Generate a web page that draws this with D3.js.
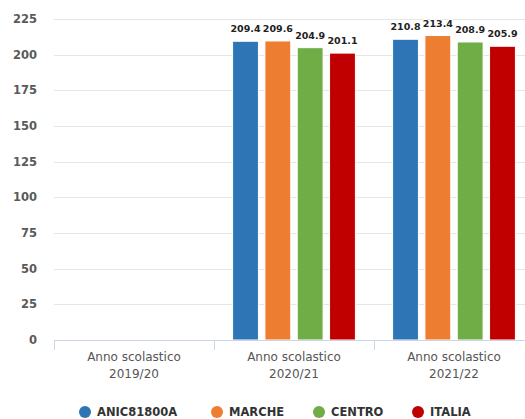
<!DOCTYPE html>
<html lang="it">
<head>
    <meta charset="UTF-8">
    <title>Anno scolastico</title>
    <script src="https://cdnjs.cloudflare.com/ajax/libs/d3/7.8.5/d3.min.js"></script>
    <style>
        body { margin: 0; background: #fff; font-family: "DejaVu Sans", Verdana, sans-serif; }
        svg { display: block; }
    </style>
</head>
<body>
    <svg id="chart" width="525" height="419"></svg>
    <script>
        // categories and series
        const years = ['Anno scolastico 2019/20', 'Anno scolastico 2020/21', 'Anno scolastico 2021/22'];
        const seriesNames = ['ANIC81800A', 'MARCHE', 'CENTRO', 'ITALIA'];
        const colors = ['#2e75b6', '#ed7d31', '#70ad47', '#c00000'];
        const anic = [null, 209.4, 210.8];
        const marche = [null, 209.6, 213.4];
        const centro = [null, 204.9, 208.9];
        const italia = [null, 201.1, 205.9];
        const yTicks = [0, 25, 50, 75, 100, 125, 150, 175, 200, 225];

        const values = [anic, marche, centro, italia];
        const svg = d3.select('#chart');

        const plotL = 54, plotR = 534, plotT = 19, plotB = 340;

        const x = d3.scaleBand().domain(years).range([plotL, plotR]);
        const xs = d3.scaleBand().domain(seriesNames)
            .range([0, x.bandwidth()])
            .paddingInner(0.2)
            .paddingOuter(0.575);
        const y = d3.scaleLinear().domain([0, 225]).range([plotB, plotT]);

        // gridlines
        svg.append('g')
            .selectAll('line')
            .data(yTicks.filter(d => d > 0))
            .enter().append('line')
            .attr('x1', plotL).attr('x2', plotR)
            .attr('y1', d => Math.round(y(d)) + 0.5)
            .attr('y2', d => Math.round(y(d)) + 0.5)
            .attr('stroke', '#e6e6e6');

        // y labels
        svg.append('g')
            .selectAll('text')
            .data(yTicks)
            .enter().append('text')
            .attr('x', 37)
            .attr('y', d => y(d) + 4)
            .attr('text-anchor', 'end')
            .attr('font-size', 11.5)
            .attr('font-weight', 'bold')
            .attr('fill', '#5a5a5a')
            .text(d => d);

        // bars
        const rows = [];
        years.forEach((yr, i) => {
            seriesNames.forEach((s, j) => {
                if (values[j][i] != null) rows.push({ yr, s, j, v: values[j][i] });
            });
        });

        svg.append('g')
            .selectAll('rect')
            .data(rows)
            .enter().append('rect')
            .attr('x', d => x(d.yr) + xs(d.s))
            .attr('y', d => y(d.v))
            .attr('width', xs.bandwidth())
            .attr('height', d => y(0) - y(d.v))
            .attr('fill', d => colors[d.j])
            .attr('stroke', '#fff')
            .attr('stroke-width', 1);

        // value labels
        svg.append('g')
            .selectAll('text')
            .data(rows)
            .enter().append('text')
            .attr('x', d => x(d.yr) + xs(d.s) + xs.bandwidth() / 2)
            .attr('y', d => y(d.v) - 9)
            .attr('text-anchor', 'middle')
            .attr('font-size', 9.5)
            .attr('font-weight', 'bold')
            .attr('fill', '#222')
            .attr('stroke', '#fff')
            .attr('stroke-width', 2)
            .attr('paint-order', 'stroke')
            .text(d => d.v.toFixed(1));

        // x axis
        const xa = svg.append('g');
        xa.append('line')
            .attr('x1', plotL).attr('x2', plotR)
            .attr('y1', plotB + 0.5).attr('y2', plotB + 0.5)
            .attr('stroke', '#ccd6eb');
        xa.selectAll('line.tick')
            .data(years.concat(['end']))
            .enter().append('line')
            .attr('class', 'tick')
            .attr('x1', d => (d === 'end' ? plotR : x(d)) + 0.5)
            .attr('x2', d => (d === 'end' ? plotR : x(d)) + 0.5)
            .attr('y1', plotB).attr('y2', plotB + 10)
            .attr('stroke', '#ccd6eb');
        const xl = xa.selectAll('text')
            .data(years)
            .enter().append('text')
            .attr('x', d => x(d) + x.bandwidth() / 2)
            .attr('text-anchor', 'middle')
            .attr('font-size', 12)
            .attr('fill', '#555');
        xl.append('tspan')
            .attr('x', d => x(d) + x.bandwidth() / 2)
            .attr('y', 361)
            .text(d => d.split(' ').slice(0, 2).join(' '));
        xl.append('tspan')
            .attr('x', d => x(d) + x.bandwidth() / 2)
            .attr('y', 378)
            .text(d => d.split(' ')[2]);

        // legend
        const legX = [85, 217, 319, 418];
        const leg = svg.append('g')
            .selectAll('g')
            .data(seriesNames)
            .enter().append('g')
            .attr('transform', (d, i) => `translate(${legX[i]},412)`);
        leg.append('circle')
            .attr('r', 6)
            .attr('fill', (d, i) => colors[i]);
        leg.append('text')
            .attr('x', 12)
            .attr('y', 4)
            .attr('font-size', 11.5)
            .attr('font-weight', 'bold')
            .attr('fill', '#333')
            .text(d => d);
    </script>
</body>
</html>
